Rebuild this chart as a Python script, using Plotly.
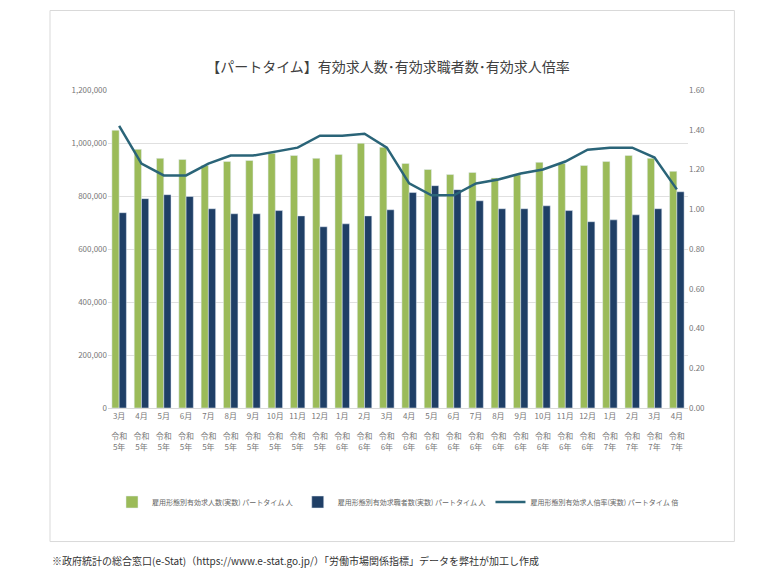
import plotly.graph_objects as go

months = ["3月", "4月", "5月", "6月", "7月", "8月", "9月", "10月", "11月", "12月",
          "1月", "2月", "3月", "4月", "5月", "6月", "7月", "8月", "9月", "10月",
          "11月", "12月", "1月", "2月", "3月", "4月"]
years = ["5年"] * 10 + ["6年"] * 12 + ["7年"] * 4
openings = [1048000, 976000, 942000, 938000, 915000, 930000, 934000, 961000, 953000, 942000,
            957000, 999000, 984000, 923000, 900000, 881000, 889000, 868000, 880000, 927000,
            923000, 915000, 930000, 953000, 942000, 893000]
seekers = [737000, 790000, 805000, 798000, 752000, 733000, 733000, 745000, 725000, 684000,
           695000, 725000, 748000, 813000, 839000, 824000, 782000, 752000, 752000, 763000,
           745000, 703000, 710000, 729000, 752000, 816000]
ratio = [1.42, 1.23, 1.17, 1.17, 1.23, 1.27, 1.27, 1.29, 1.31, 1.37,
         1.37, 1.38, 1.31, 1.13, 1.07, 1.07, 1.13, 1.15, 1.18, 1.20,
         1.24, 1.30, 1.31, 1.31, 1.26, 1.10]

labels = [f"{m}<br><br>令和<br>{y}" for m, y in zip(months, years)]
x = list(range(len(months)))

fig = go.Figure()
fig.add_trace(go.Bar(x=x, y=openings, name="雇用形態別有効求人数(実数) パートタイム 人",
                     marker_color="#9bbb59"))
fig.add_trace(go.Bar(x=x, y=seekers, name="雇用形態別有効求職者数(実数) パートタイム 人",
                     marker_color="#1f3f66"))
fig.add_trace(go.Scatter(x=x, y=ratio, name="雇用形態別有効求人倍率(実数) パートタイム 倍",
                         mode="lines", line=dict(color="#2a6478", width=2.5), yaxis="y2"))

font = "Noto Sans CJK JP"
fig.update_layout(
    width=760, height=570,
    paper_bgcolor="white", plot_bgcolor="white",
    font=dict(family=font, size=8, color="#666"),
    title=dict(text="【パートタイム】有効求人数･有効求職者数･有効求人倍率", x=0.5, y=0.905,
               xanchor="center", font=dict(size=14, color="#404040")),
    margin=dict(l=100, r=80, t=82, b=170),
    barmode="group", bargap=0.35, bargroupgap=0.0,
    xaxis=dict(tickvals=x, ticktext=labels, range=[-0.5, len(x) - 0.5],
               showline=True, linecolor="#d9d9d9", tickfont=dict(size=8, color="#777")),
    yaxis=dict(range=[0, 1200000], dtick=200000, tickformat=",", gridcolor="#e0e0e0",
               zeroline=False, tickfont=dict(size=8, color="#777")),
    yaxis2=dict(range=[0, 1.6], dtick=0.2, tickformat=".2f", overlaying="y", side="right",
                showgrid=False, zeroline=False, tickfont=dict(size=8, color="#777")),
    legend=dict(orientation="h", x=0.5, xanchor="center", y=-0.25, yanchor="top",
                itemwidth=30, tracegroupgap=0, font=dict(size=7, color="#666")),
    shapes=[dict(type="rect", xref="paper", yref="paper", x0=-0.1, x1=1.08, y0=-0.42, y1=1.25,
                 line=dict(color="#d9d9d9", width=1))],
    annotations=[dict(text="※政府統計の総合窓口(e-Stat)（https://www.e-stat.go.jp/）「労働市場関係指標」データを弊社が加工し作成",
                      xref="paper", yref="paper", x=-0.1, y=-0.51, xanchor="left",
                      showarrow=False, font=dict(size=10, color="#333"))],
)
fig.write_html("out.html")
